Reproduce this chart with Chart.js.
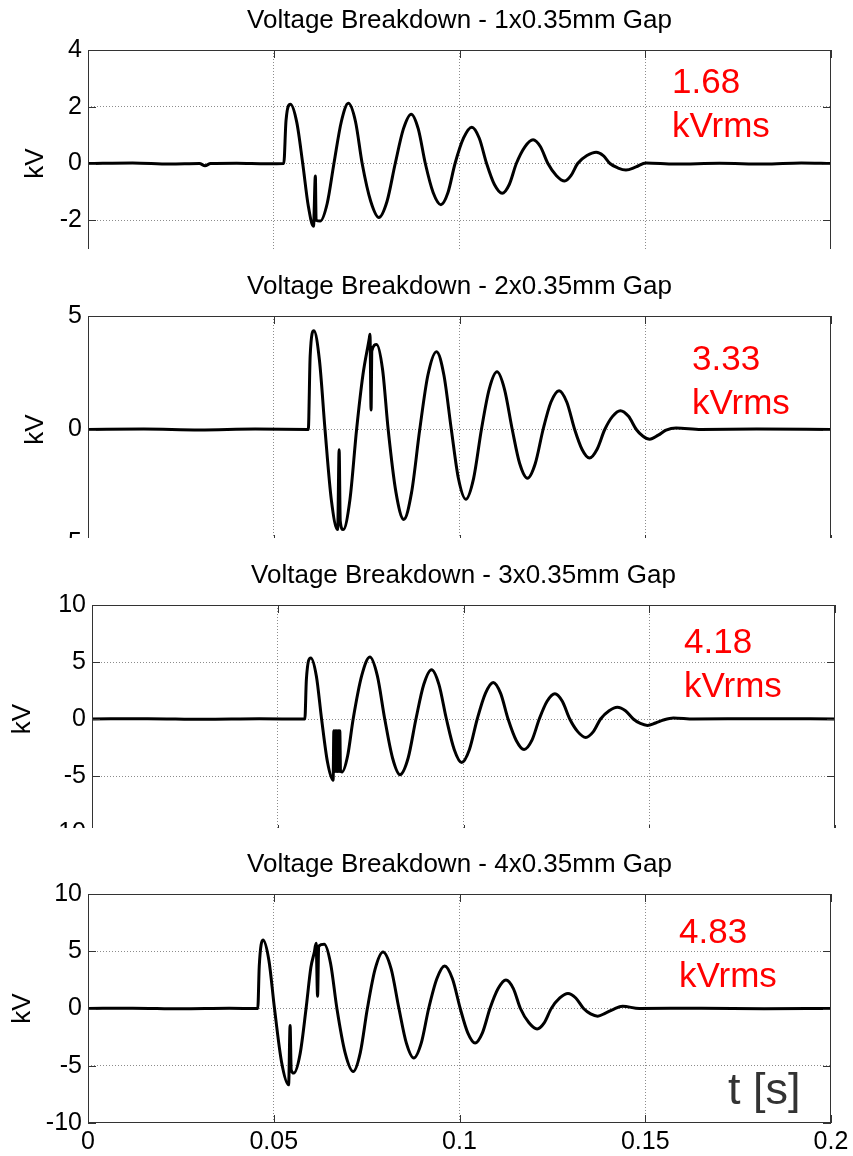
<!DOCTYPE html>
<html>
<head>
<meta charset="utf-8">
<script src="https://cdn.jsdelivr.net/npm/chart.js@4.4.1/dist/chart.umd.min.js"></script>
<style>
  body { margin: 0; background: #fff; }
  #fig { position: relative; width: 853px; height: 1156px; overflow: hidden; background: #fff; }
  .panel { position: absolute; left: 0; width: 853px; overflow: hidden; }
  canvas { display: block; }
</style>
</head>
<body>
<div id="fig">
  <div class="panel" style="top:0;height:249px"><canvas id="chart1" width="853" height="300"></canvas></div>
  <div class="panel" style="top:249px;height:289px"><canvas id="chart2" width="853" height="330"></canvas></div>
  <div class="panel" style="top:538px;height:290px"><canvas id="chart3" width="853" height="330"></canvas></div>
  <div class="panel" style="top:828px;height:328px"><canvas id="chart4" width="853" height="328"></canvas></div>
</div>
<script>
// titles and rms readings
const panelTitles = [
  'Voltage Breakdown - 1x0.35mm Gap',
  'Voltage Breakdown - 2x0.35mm Gap',
  'Voltage Breakdown - 3x0.35mm Gap',
  'Voltage Breakdown - 4x0.35mm Gap'
];
const rmsValues = ['1.68', '3.33', '4.18', '4.83'];

// axis ticks
const xTicks = [0, 0.05, 0.1, 0.15, 0.2];
const yTicks1 = [-4, -2, 0, 2, 4];
const yTicks2 = [-5, 0, 5];
const yTicks3 = [-10, -5, 0, 5, 10];
const yTicks4 = [-10, -5, 0, 5, 10];

// 1x gap: time [s] / kV
const t1 = [0, 0.012, 0.022, 0.0300, 0.0315, 0.0330, 0.040, 0.048, 0.0527,
  0.0533, 0.0545, 0.0562, 0.0578, 0.0593, 0.0607, 0.0612, 0.0614, 0.0625,
  0.0644, 0.0662, 0.0682, 0.0701, 0.0720, 0.0738, 0.0761, 0.0783, 0.0805, 0.0827,
  0.0849, 0.0870, 0.0889, 0.0908, 0.0929, 0.0950, 0.0969, 0.0988,
  0.1011, 0.1033, 0.1053, 0.1073, 0.1094, 0.1115, 0.1134, 0.1153,
  0.1176, 0.1198, 0.1218, 0.1238, 0.1261, 0.1283, 0.1300, 0.1318,
  0.1343, 0.1368, 0.1387, 0.1405, 0.1427, 0.1448, 0.1475, 0.1502,
  0.158, 0.170, 0.182, 0.192, 0.200];
const v1 = [0, 0.02, -0.02, 0, -0.08, 0, 0.01, -0.01, 0,
  1.51, 2.09, 1.45, 0, -1.5, -2.21, -0.44, -2.0, -2.03,
  -1.4, 0, 1.48, 2.12, 1.48, 0, -1.33, -1.90, -1.33, 0,
  1.22, 1.74, 1.22, 0, -1.02, -1.45, -1.02, 0,
  0.9, 1.28, 0.9, 0, -0.74, -1.05, -0.74, 0,
  0.59, 0.84, 0.59, 0, -0.43, -0.62, -0.43, 0,
  0.28, 0.40, 0.28, 0, -0.16, -0.23, -0.12, 0.02,
  -0.02, 0.01, -0.02, 0.02, 0];

// 2x gap
const t2 = [0, 0.015, 0.030, 0.045, 0.0593,
  0.0598, 0.0608, 0.0623, 0.0638, 0.0655, 0.0672, 0.0676, 0.0679, 0.0687, 0.0705, 0.0723,
  0.0740, 0.0757, 0.0759, 0.0762, 0.0764, 0.0777, 0.0793, 0.0808,
  0.0829, 0.0850, 0.0871, 0.0893, 0.0915, 0.0938, 0.0958, 0.0978,
  0.0997, 0.1017, 0.1038, 0.1059, 0.1080, 0.1101, 0.1121, 0.1142,
  0.1162, 0.1183, 0.1204, 0.1225, 0.1246, 0.1268, 0.1289, 0.1310,
  0.1330, 0.1350, 0.1370, 0.1391, 0.1412, 0.1433, 0.1455, 0.1476,
  0.1494, 0.1512, 0.1535, 0.1556, 0.1583, 0.165, 0.180, 0.200];
const v2 = [0, 0.02, -0.02, 0.02, 0,
  3.23, 4.35, 3.05, 0, -3.1, -4.41, -0.89, -4.04, -4.41, -3.1, 0,
  2.4, 4.0, 4.20, 0.86, 3.46, 3.75, 2.63, 0,
  -2.77, -3.96, -2.77, 0, 2.4, 3.43, 2.4, 0,
  -2.15, -3.07, -2.15, 0, 1.78, 2.54, 1.78, 0,
  -1.5, -2.15, -1.5, 0, 1.2, 1.71, 1.2, 0,
  -0.88, -1.26, -0.88, 0, 0.58, 0.83, 0.58, 0,
  -0.3, -0.43, -0.25, -0.03, 0.07, 0, 0.02, 0];

// 3x gap
const t3 = [0, 0.015, 0.030, 0.045, 0.0573,
  0.0577, 0.0589, 0.0604, 0.0618, 0.0634, 0.0649,
  0.0651, 0.0653, 0.0655, 0.0657, 0.0659, 0.0661, 0.0663, 0.0665, 0.0667, 0.0669,
  0.0673, 0.0688, 0.0703, 0.0726, 0.0748, 0.0768, 0.0788,
  0.0809, 0.0829, 0.0851, 0.0872, 0.0893, 0.0914, 0.0934, 0.0954,
  0.0975, 0.0995, 0.1016, 0.1037, 0.1059, 0.1080, 0.1100, 0.1120,
  0.1142, 0.1163, 0.1184, 0.1204, 0.1225, 0.1246, 0.1266, 0.1286,
  0.1308, 0.1329, 0.1349, 0.1369, 0.1392, 0.1414, 0.1436, 0.1457,
  0.1476, 0.1495, 0.1517, 0.1538, 0.1565, 0.162, 0.180, 0.200];
const v3 = [0, 0.03, -0.03, 0.02, 0,
  3.44, 5.35, 3.75, 0, -3.8, -5.38,
  -1.03, -4.6, -1.03, -4.6, -1.03, -4.6, -1.03, -4.6, -1.03, -4.55,
  -4.65, -3.25, 0, 3.8, 5.44, 3.8, 0,
  -3.42, -4.88, -3.42, 0, 3.02, 4.32, 3.02, 0,
  -2.67, -3.82, -2.67, 0, 2.25, 3.21, 2.25, 0,
  -1.88, -2.68, -1.88, 0, 1.55, 2.21, 1.55, 0,
  -1.13, -1.62, -1.13, 0, 0.72, 1.03, 0.72, 0,
  -0.39, -0.56, -0.35, -0.09, 0.09, 0, 0.03, 0];

// 4x gap
const t4 = [0, 0.012, 0.025, 0.038, 0.0457,
  0.0461, 0.0471, 0.0487, 0.0502, 0.0521, 0.0540, 0.0544, 0.0547, 0.0554, 0.0571, 0.0587,
  0.0600, 0.0609, 0.0614, 0.0618, 0.0621, 0.0636, 0.0653, 0.0670,
  0.0692, 0.0714, 0.0733, 0.0752, 0.0773, 0.0794, 0.0816, 0.0837,
  0.0857, 0.0877, 0.0897, 0.0917, 0.0939, 0.0960, 0.0981, 0.1002,
  0.1022, 0.1042, 0.1062, 0.1082, 0.1104, 0.1125, 0.1145, 0.1164,
  0.1187, 0.1209, 0.1228, 0.1247, 0.1270, 0.1292, 0.1313, 0.1334,
  0.1353, 0.1372, 0.1393, 0.1413, 0.1439, 0.1484, 0.165, 0.182, 0.200];
const v4 = [0, 0.03, -0.03, 0.02, 0,
  3.71, 5.99, 4.2, 0, -4.67, -6.67, -1.49, -5.35, -5.64, -3.95, 0,
  3.6, 4.88, 5.70, 1.08, 5.45, 5.61, 3.93, 0,
  -3.85, -5.50, -3.85, 0, 3.46, 4.94, 3.46, 0,
  -3.03, -4.33, -3.03, 0, 2.6, 3.71, 2.6, 0,
  -2.1, -3.01, -2.1, 0, 1.74, 2.49, 1.74, 0,
  -1.25, -1.78, -1.25, 0, 0.92, 1.32, 0.92, 0,
  -0.47, -0.67, -0.4, -0.09, 0.2, 0, 0.03, -0.02, 0];

const FONT = '"Liberation Sans", Arial, Helvetica, sans-serif';
Chart.defaults.font.family = FONT;
Chart.defaults.color = '#000';

// box, inward ticks, title and red rms note
const panelPlugin = {
  id: 'panel',
  afterDraw(chart, args, opts) {
    const { ctx, chartArea: a, scales: { x, y } } = chart;
    ctx.save();
    ctx.strokeStyle = '#333';
    ctx.lineWidth = 1;
    ctx.strokeRect(a.left + 0.5, a.top + 0.5, a.right - a.left - 1, a.bottom - a.top - 1);
    ctx.beginPath();
    x.ticks.forEach(tk => {
      const px = Math.round(x.getPixelForValue(tk.value)) + 0.5;
      ctx.moveTo(px, a.top); ctx.lineTo(px, a.top + 8);
      ctx.moveTo(px, a.bottom); ctx.lineTo(px, a.bottom - 8);
    });
    y.ticks.forEach(tk => {
      const py = Math.round(y.getPixelForValue(tk.value)) + 0.5;
      ctx.moveTo(a.left, py); ctx.lineTo(a.left + 8, py);
      ctx.moveTo(a.right, py); ctx.lineTo(a.right - 8, py);
    });
    ctx.stroke();

    ctx.fillStyle = '#000';
    ctx.font = '26px ' + FONT;
    ctx.textAlign = 'center';
    ctx.textBaseline = 'middle';
    ctx.fillText(opts.title, (a.left + a.right) / 2, a.top - 29);

    ctx.fillStyle = '#ff0000';
    ctx.font = '35px ' + FONT;
    ctx.textAlign = 'left';
    ctx.textBaseline = 'alphabetic';
    ctx.fillText(opts.rms, opts.noteX, opts.noteY);
    ctx.fillText('kVrms', opts.noteX, opts.noteY + 43.5);

    if (opts.xlabel) {
      ctx.fillStyle = '#333';
      ctx.font = '45px ' + FONT;
      ctx.fillText(opts.xlabel, opts.xlabelX, opts.xlabelY);
    }
    ctx.restore();
  }
};

function makePanel(id, t, v, yTicks, p) {
  const gridColor = c => (c.index === 0 || c.index === c.scale.ticks.length - 1) ? 'rgba(0,0,0,0)' : '#8c8c8c';
  new Chart(document.getElementById(id), {
    type: 'line',
    data: {
      datasets: [{
        data: t.map((tt, i) => ({ x: tt, y: v[i] })),
        borderColor: '#000',
        borderWidth: 3,
        pointRadius: 0,
        cubicInterpolationMode: 'monotone',
        fill: false
      }]
    },
    options: {
      responsive: false,
      animation: false,
      events: [],
      layout: { padding: { top: p.top, right: 853 - p.right, left: 0, bottom: 0 } },
      plugins: {
        legend: { display: false },
        tooltip: { enabled: false },
        panel: p.panel
      },
      scales: {
        x: {
          type: 'linear',
          min: 0,
          max: 0.2,
          afterBuildTicks: s => { s.ticks = xTicks.map(val => ({ value: val })); },
          afterFit: s => { s.height = p.h - p.bottom; s.paddingLeft = 0; s.paddingRight = 0; },
          grid: { color: gridColor, lineWidth: 1, drawTicks: false },
          border: { display: false, dash: [1, 2] },
          ticks: { display: p.showX, padding: 4, color: '#000', font: { size: 25 }, maxRotation: 0, callback: val => String(val) }
        },
        y: {
          min: yTicks[0],
          max: yTicks[yTicks.length - 1],
          afterBuildTicks: s => { s.ticks = yTicks.map(val => ({ value: val })); },
          afterFit: s => { s.width = p.left; s.paddingTop = 0; s.paddingBottom = 0; },
          grid: { color: gridColor, lineWidth: 1, drawTicks: false },
          border: { display: false, dash: [1, 2] },
          ticks: { padding: 6, color: '#000', font: { size: 25 }, callback: val => String(val) },
          title: { display: true, text: 'kV', color: '#000', font: { size: 26 }, padding: { top: p.kvPad, bottom: 0 } }
        }
      }
    },
    plugins: [panelPlugin]
  });
}

makePanel('chart1', t1, v1, yTicks1, {
  h: 300, top: 50, bottom: 277, left: 88, right: 831, kvPad: 20, showX: false,
  panel: { title: panelTitles[0], rms: rmsValues[0], noteX: 672, noteY: 93 }
});
makePanel('chart2', t2, v2, yTicks2, {
  h: 330, top: 67, bottom: 294, left: 88, right: 831, kvPad: 20, showX: false,
  panel: { title: panelTitles[1], rms: rmsValues[1], noteX: 692, noteY: 121 }
});
makePanel('chart3', t3, v3, yTicks3, {
  h: 330, top: 67, bottom: 295, left: 92, right: 835, kvPad: 7, showX: false,
  panel: { title: panelTitles[2], rms: rmsValues[2], noteX: 684, noteY: 115 }
});
makePanel('chart4', t4, v4, yTicks4, {
  h: 328, top: 66, bottom: 295, left: 88, right: 831, kvPad: 7, showX: true,
  panel: { title: panelTitles[3], rms: rmsValues[3], noteX: 679, noteY: 115, xlabel: 't [s]', xlabelX: 728, xlabelY: 276 }
});
</script>
</body>
</html>
